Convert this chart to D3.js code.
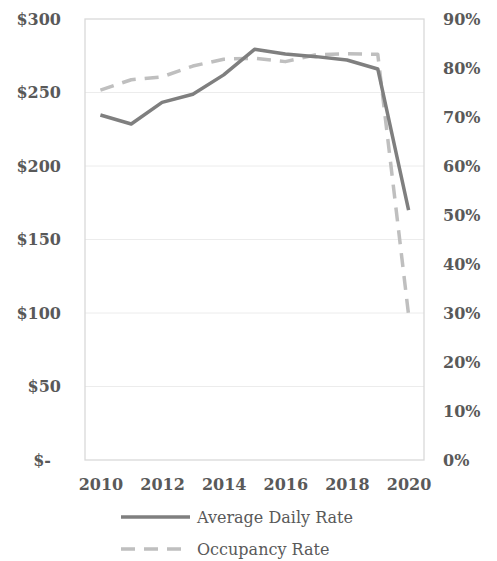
<!DOCTYPE html>
<html>
<head>
<meta charset="utf-8">
<script src="https://cdn.jsdelivr.net/npm/d3@7"></script>
<style>
  body { margin: 0; background: #fff; }
  svg text { font-family: "DejaVu Serif", serif; fill: #595959; }
</style>
</head>
<body>
<div id="chart"></div>
<script>
const years = [2010, 2011, 2012, 2013, 2014, 2015, 2016, 2017, 2018, 2019, 2020];
const adr = [234.7, 228.6, 243.3, 248.8, 262, 279.4, 276.2, 274.4, 272.1, 266, 170];
const occupancy = [0.755, 0.776, 0.782, 0.804, 0.818, 0.82, 0.813, 0.827, 0.829, 0.828, 0.296];
const leftTicks = [0, 50, 100, 150, 200, 250, 300];
const rightTicks = [0, 0.1, 0.2, 0.3, 0.4, 0.5, 0.6, 0.7, 0.8, 0.9];
const xLabels = [2010, 2012, 2014, 2016, 2018, 2020];

const W = 497, H = 561;
const m = {left: 85, right: 73, top: 19, bottom: 101};

const svg = d3.select("#chart").append("svg")
  .attr("width", W).attr("height", H);

const x = d3.scalePoint().domain(years)
  .range([m.left, W - m.right]).padding(0.5);
const yL = d3.scaleLinear().domain([0, 300]).range([H - m.bottom, m.top]);
const yR = d3.scaleLinear().domain([0, 0.9]).range([H - m.bottom, m.top]);

// grid
svg.append("g").selectAll("line").data(leftTicks.slice(1, -1)).join("line")
  .attr("x1", m.left).attr("x2", W - m.right)
  .attr("y1", d => yL(d)).attr("y2", d => yL(d))
  .attr("stroke", "#ececec").attr("stroke-width", 1);

// plot border
svg.append("rect")
  .attr("x", m.left).attr("y", m.top)
  .attr("width", W - m.right - m.left).attr("height", H - m.bottom - m.top)
  .attr("fill", "none").attr("stroke", "#d9d9d9").attr("stroke-width", 1.3);

// left axis
const gL = svg.append("g").attr("transform", `translate(${m.left - 24},0)`)
  .call(d3.axisLeft(yL).tickValues(leftTicks).tickSize(0).tickPadding(0)
    .tickFormat(d => d === 0 ? "$-" : "$" + d));
gL.select(".domain").remove();
gL.selectAll("text").style("font-size", "16px").style("font-weight", "bold")
  .attr("dx", d => d === 0 ? -10 : 0);

// right axis
const gR = svg.append("g").attr("transform", `translate(${W - m.right + 19},0)`)
  .call(d3.axisRight(yR).tickValues(rightTicks).tickSize(0).tickPadding(0)
    .tickFormat(d3.format(".0%")));
gR.select(".domain").remove();
gR.selectAll("text").style("font-size", "16px").style("font-weight", "bold");

// x axis
const gX = svg.append("g").attr("transform", `translate(0,${H - m.bottom + 19})`)
  .call(d3.axisBottom(x).tickValues(xLabels).tickSize(0).tickPadding(0));
gX.select(".domain").remove();
gX.selectAll("text").style("font-size", "16px").style("font-weight", "bold");

// lines
const lineL = d3.line().x((d, i) => x(years[i])).y(d => yL(d));
const lineR = d3.line().x((d, i) => x(years[i])).y(d => yR(d));

svg.append("path").datum(occupancy).attr("d", lineR)
  .attr("fill", "none").attr("stroke", "#bfbfbf").attr("stroke-width", 3.5)
  .attr("stroke-dasharray", "14,9").attr("stroke-linejoin", "round");

svg.append("path").datum(adr).attr("d", lineL)
  .attr("fill", "none").attr("stroke", "#7f7f7f").attr("stroke-width", 3.5)
  .attr("stroke-linejoin", "round");

// legend
const legend = [
  {name: "Average Daily Rate", color: "#7f7f7f", dash: null},
  {name: "Occupancy Rate", color: "#bfbfbf", dash: "14,9"}
];
const lg = svg.append("g").selectAll("g").data(legend).join("g")
  .attr("transform", (d, i) => `translate(121,${517 + i * 32})`);
lg.append("line").attr("x1", 0).attr("x2", 69)
  .attr("stroke", d => d.color).attr("stroke-width", 3.5)
  .attr("stroke-dasharray", d => d.dash);
lg.append("text").attr("x", 76).attr("dy", "0.35em")
  .style("font-size", "16px").text(d => d.name);
</script>
</body>
</html>
